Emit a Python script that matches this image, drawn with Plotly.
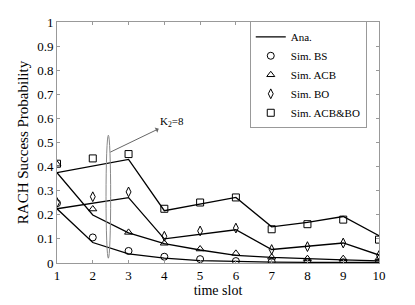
import plotly.graph_objects as go

slots = [1, 2, 3, 4, 5, 6, 7, 8, 9, 10]

# Analytical curves
ana_bs = [0.225, 0.085, 0.038, 0.02, 0.01, 0.006, 0.004, 0.003, 0.002, 0.002]
ana_acb = [0.375, 0.199, 0.125, 0.08, 0.054, 0.032, 0.023, 0.017, 0.013, 0.009]
ana_bo = [0.225, 0.248, 0.271, 0.10, 0.12, 0.138, 0.056, 0.068, 0.083, 0.033]
ana_acbbo = [0.375, 0.403, 0.43, 0.217, 0.245, 0.272, 0.15, 0.169, 0.193, 0.113]

# Simulation markers
sim_bs = [0.248, 0.106, 0.05, 0.026, 0.016, 0.008, 0.005, 0.003, 0.003, 0.003]
sim_acb = [0.41, 0.224, 0.127, 0.082, 0.058, 0.04, 0.024, 0.018, 0.018, 0.02]
sim_bo = [0.251, 0.275, 0.295, 0.111, 0.133, 0.145, 0.056, 0.068, 0.083, 0.031]
sim_acbbo = [0.412, 0.434, 0.452, 0.225, 0.251, 0.272, 0.14, 0.161, 0.18, 0.097]

y_ticks = [0, 0.1, 0.2, 0.3, 0.4, 0.5, 0.6, 0.7, 0.8, 0.9, 1]

FONT = "Liberation Serif, Times New Roman, serif"
fig = go.Figure()

ana_sets = [ana_bs, ana_acb, ana_bo, ana_acbbo]
for i, ys in enumerate(ana_sets):
    fig.add_trace(go.Scatter(x=slots, y=ys, mode="lines",
                             line=dict(color="black", width=1.3),
                             name="Ana.", legendgroup="ana", showlegend=(i == 0)))

sims = [("Sim. BS", sim_bs, "circle-open"),
        ("Sim. ACB", sim_acb, "triangle-up-open"),
        ("Sim. BO", sim_bo, "diamond-tall-open"),
        ("Sim. ACB&BO", sim_acbbo, "square-open")]
for name, ys, sym in sims:
    fig.add_trace(go.Scatter(x=slots, y=ys, mode="markers", name=name, legendgroup=name,
                             marker=dict(symbol=sym, size=7, color="black",
                                         line=dict(color="black", width=1))))

fig.add_shape(type="circle", xref="x", yref="y", x0=2.37, x1=2.50, y0=0.02, y1=0.53,
              line=dict(color="#888888", width=1))
fig.add_annotation(x=2.49, y=0.46, ax=4.22, ay=0.584, xref="x", yref="y",
                   axref="x", ayref="y", text="K<sub>2</sub>=8", showarrow=True,
                   arrowside="start", arrowhead=2, arrowsize=1, arrowwidth=1,
                   arrowcolor="#666666",
                   font=dict(family=FONT, size=11, color="black"))

axis_common = dict(showgrid=False, zeroline=False, showline=True, mirror="ticks",
                   linecolor="#999999", linewidth=1, ticks="inside", ticklen=3,
                   tickcolor="#999999", tickfont=dict(family=FONT, size=13, color="black"))

fig.update_xaxes(range=[1, 10], tickvals=slots, title=dict(text="time slot", standoff=2,
                 font=dict(family=FONT, size=14, color="black")), **axis_common)
fig.update_yaxes(range=[0, 1], tickvals=y_ticks, title=dict(text="RACH Success Probability",
                 standoff=4, font=dict(family=FONT, size=15, color="black")), **axis_common)

fig.update_layout(
    width=407, height=297,
    margin=dict(l=49, r=36, t=7, b=42),
    plot_bgcolor="white", paper_bgcolor="white",
    font=dict(family=FONT, color="black"),
    legend=dict(x=0.962, y=1.003, xanchor="right", yanchor="top",
                bordercolor="#999999", borderwidth=1, bgcolor="white",
                font=dict(family=FONT, size=11, color="black"),
                itemwidth=30, tracegroupgap=0),
)

fig.write_html("out.html")
